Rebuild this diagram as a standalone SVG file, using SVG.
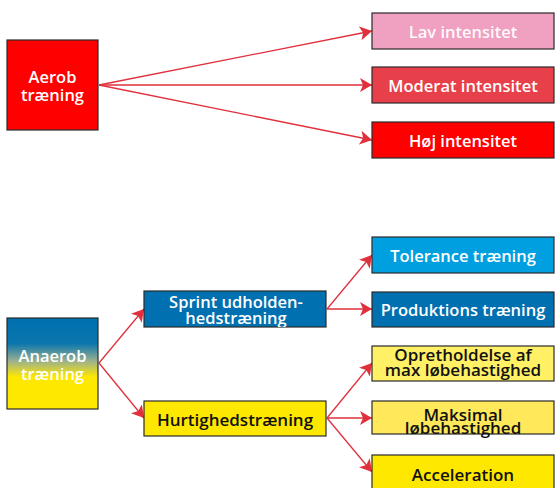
<svg xmlns="http://www.w3.org/2000/svg" width="555" height="488" viewBox="0 0 555 488">
<style>
.box{stroke:#2a2a2a;stroke-width:1.2}
.w{fill:#ffffff;font-family:"Open Sans","Noto Sans",sans-serif;font-size:16.5px;font-weight:600;text-anchor:middle}
.b{fill:#111111;font-family:"Open Sans","Noto Sans",sans-serif;font-size:17px;font-weight:600;text-anchor:middle}
.c{stroke:#e0303c;stroke-width:1.3;fill:none;marker-end:url(#ah)}
</style>
<defs>
<marker id="ah" viewBox="0 0 12 14" refX="12" refY="7" markerWidth="12" markerHeight="14" markerUnits="userSpaceOnUse" orient="auto">
<path d="M0,0 L12,7 L0,14 L3,7 Z" fill="#e0303c"/>
</marker>
<linearGradient id="ana" x1="0" y1="0" x2="0" y2="1">
<stop offset="0" stop-color="#0070b0"/>
<stop offset="0.28" stop-color="#0a76ad"/>
<stop offset="0.47" stop-color="#9ab090"/>
<stop offset="0.65" stop-color="#ffe800"/>
<stop offset="1" stop-color="#ffe800"/>
</linearGradient>
<clipPath id="clipSprint"><rect x="144" y="291" width="182" height="36"/></clipPath>
</defs>

<g id="connectors">
<line class="c" x1="99" y1="85" x2="372" y2="31"/>
<line class="c" x1="99" y1="85" x2="372" y2="85"/>
<line class="c" x1="99" y1="85" x2="372" y2="140"/>
<line class="c" x1="99" y1="363" x2="144" y2="309"/>
<line class="c" x1="99" y1="363" x2="144" y2="418"/>
<line class="c" x1="327" y1="309" x2="372" y2="255"/>
<line class="c" x1="327" y1="309" x2="372" y2="309"/>
<line class="c" x1="327" y1="418" x2="372" y2="363"/>
<line class="c" x1="327" y1="418" x2="372" y2="418"/>
<line class="c" x1="327" y1="418" x2="372" y2="472"/>
</g>

<g id="aerob">
<rect class="box" x="7" y="40" width="91" height="90" fill="#ff0000"/>
<text class="w" x="52.5" y="83">Aerob</text>
<text class="w" x="52.5" y="101">træning</text>
</g>
<g id="lav">
<rect class="box" x="372" y="13" width="182" height="36" fill="#f0a0c0"/>
<text class="w" x="463" y="38" fill-opacity="0.95">Lav intensitet</text>
</g>
<g id="moderat">
<rect class="box" x="372" y="67" width="182" height="36" fill="#e8404a"/>
<text class="w" x="463" y="92">Moderat intensitet</text>
</g>
<g id="hoej">
<rect class="box" x="372" y="122" width="182" height="36" fill="#ff0000"/>
<text class="w" x="463" y="147">Høj intensitet</text>
</g>

<g id="anaerob">
<rect class="box" x="7" y="318" width="91" height="91" fill="url(#ana)"/>
<text class="w" x="52.5" y="362">Anaerob</text>
<text class="w" x="52.5" y="380">træning</text>
</g>
<g id="sprint">
<rect class="box" x="144" y="291" width="182" height="36" fill="#0070b0"/>
<g clip-path="url(#clipSprint)">
<text class="w" x="236" y="308">Sprint udholden-</text>
<text class="w" x="236" y="324">hedstræning</text>
</g>
</g>
<g id="hurtighed">
<rect class="box" x="144" y="401" width="182" height="35" fill="#ffe800"/>
<text class="b" x="235" y="426">Hurtighedstræning</text>
</g>
<g id="tolerance">
<rect class="box" x="372" y="237" width="182" height="36" fill="#00a0e0"/>
<text class="w" x="463" y="262">Tolerance træning</text>
</g>
<g id="produktions">
<rect class="box" x="372" y="292" width="182" height="35" fill="#0070b0"/>
<text class="w" x="463" y="316">Produktions træning</text>
</g>
<g id="opretholdelse">
<rect class="box" x="372" y="346" width="182" height="35" fill="#fff066"/>
<text class="b" x="463" y="361">Opretholdelse af</text>
<text class="b" x="463" y="376">max løbehastighed</text>
</g>
<g id="maksimal">
<rect class="box" x="372" y="401" width="182" height="33" fill="#ffe85a"/>
<text class="b" x="463" y="421">Maksimal</text>
<text class="b" x="463" y="434">løbehastighed</text>
</g>
<g id="acceleration">
<rect class="box" x="372" y="455" width="182" height="40" fill="#ffe800"/>
<text class="b" x="463" y="481">Acceleration</text>
</g>
</svg>
